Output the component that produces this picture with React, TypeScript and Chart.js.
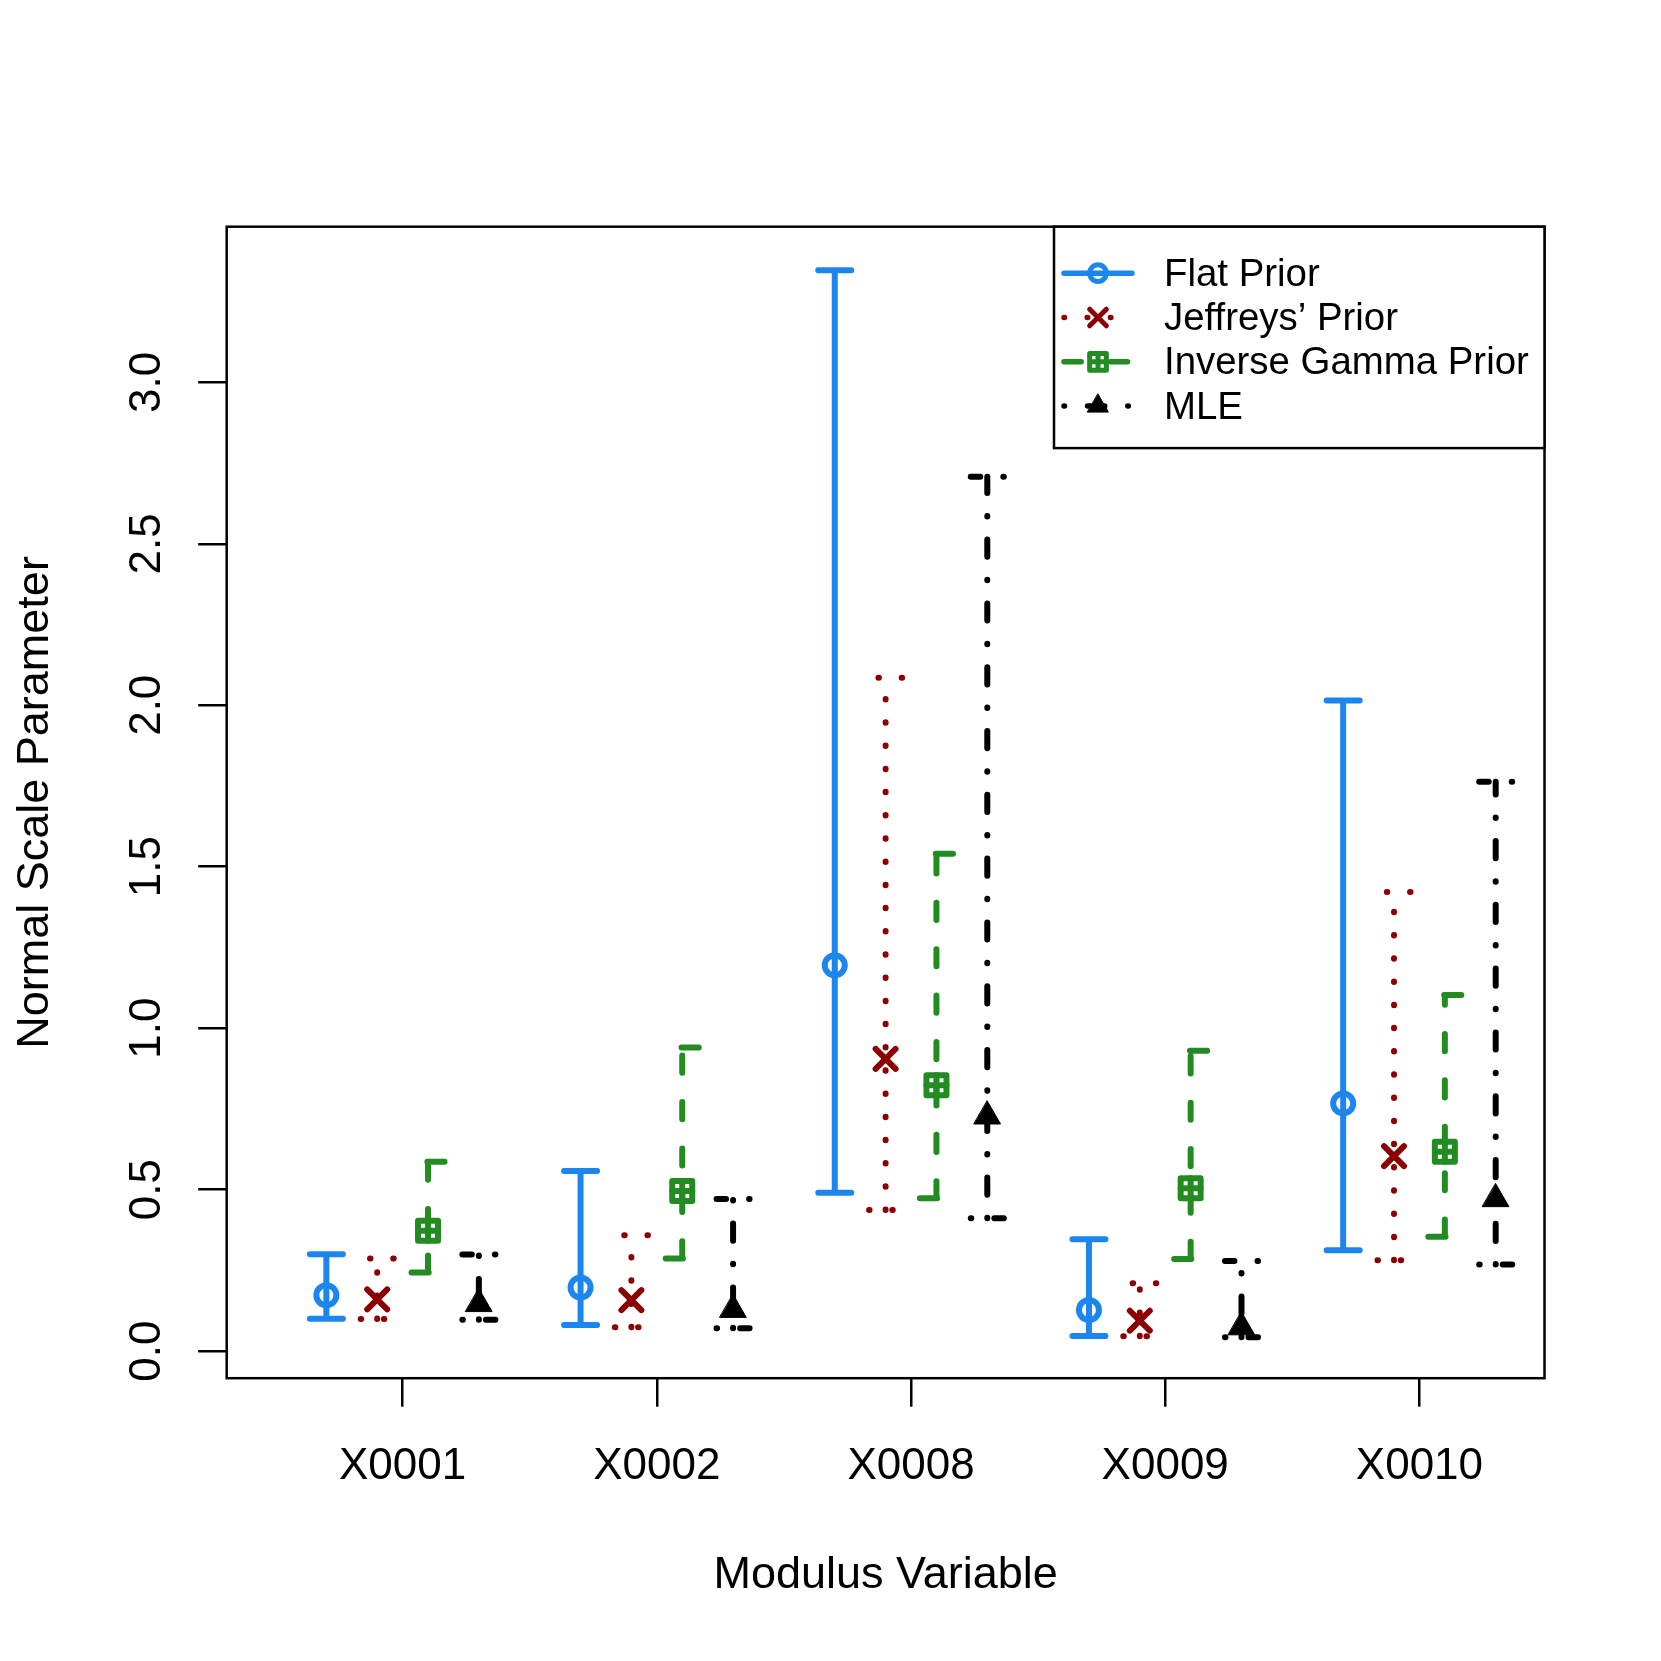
import React, { useEffect, useRef } from "react";
import { Chart, registerables } from "chart.js";

Chart.register(...registerables);

// ---------------- data ----------------
const categories = ["X0001", "X0002", "X0008", "X0009", "X0010"];
const seriesNames = ["Flat Prior", "Jeffreys\u2019 Prior", "Inverse Gamma Prior", "MLE"];

const flatEst = [0.173, 0.197, 1.195, 0.127, 0.767];
const flatLower = [0.1, 0.081, 0.49, 0.047, 0.312];
const flatUpper = [0.3, 0.558, 3.347, 0.346, 2.015];

const jeffEst = [0.16, 0.158, 0.905, 0.094, 0.604];
const jeffLower = [0.099, 0.074, 0.437, 0.046, 0.281];
const jeffUpper = [0.287, 0.359, 2.085, 0.21, 1.422];

const igEst = [0.373, 0.496, 0.823, 0.504, 0.617];
const igLower = [0.243, 0.287, 0.473, 0.285, 0.354];
const igUpper = [0.586, 0.94, 1.54, 0.93, 1.103];

const mleEst = [0.146, 0.128, 0.727, 0.074, 0.471];
const mleLower = [0.097, 0.071, 0.411, 0.043, 0.268];
const mleUpper = [0.299, 0.471, 2.708, 0.279, 1.763];

const xTickValues = [1, 2, 3, 4, 5];
const yTickValues = [0, 0.5, 1, 1.5, 2, 2.5, 3];
const xAxisTitle = "Modulus Variable";
const yAxisTitle = "Normal Scale Parameter";

// ---------------- layout / style ----------------
const SIZE = 1661;
const FONT = '"Liberation Sans", Arial, Helvetica, sans-serif';
const AREA = { left: 226.7, top: 226.7, right: 1544.5, bottom: 1378.2 };
const X_RANGE = [0.308, 5.492];
const Y_RANGE = [-0.084, 3.482];
const LINE_W = 6;
const CAP_HALF = 0.065; // cap half width in x units
const DASHES = {
  solid: [] as number[],
  dotted: [0.5, 22.7],
  dashed: [17.2, 29.2],
  dotdash: [0.5, 23.05, 17.2, 23.05],
};

const STYLES = [
  { color: "#1C86EE", dash: DASHES.solid, marker: "circle", offset: -0.3 },
  { color: "#8B0000", dash: DASHES.dotted, marker: "cross", offset: -0.1 },
  { color: "#228B22", dash: DASHES.dashed, marker: "squarePlus", offset: 0.1 },
  { color: "#000000", dash: DASHES.dotdash, marker: "triangle", offset: 0.3 },
];

const SERIES = [
  { name: seriesNames[0], est: flatEst, lo: flatLower, hi: flatUpper, ...STYLES[0] },
  { name: seriesNames[1], est: jeffEst, lo: jeffLower, hi: jeffUpper, ...STYLES[1] },
  { name: seriesNames[2], est: igEst, lo: igLower, hi: igUpper, ...STYLES[2] },
  { name: seriesNames[3], est: mleEst, lo: mleLower, hi: mleUpper, ...STYLES[3] },
];

function markerDatasets(s: any) {
  const pts = categories.map((_, i) => ({ x: i + 1 + s.offset, y: s.est[i] }));
  const base = {
    type: "line",
    data: pts,
    showLine: false,
    borderColor: s.color,
    pointBorderColor: s.color,
    pointHoverRadius: 0,
  };
  if (s.marker === "circle") {
    return [{ ...base, pointStyle: "circle", pointRadius: 10, pointBorderWidth: LINE_W, pointBackgroundColor: "rgba(0,0,0,0)" }];
  }
  if (s.marker === "cross") {
    return [{ ...base, pointStyle: "crossRot", pointRadius: 14.1, pointBorderWidth: LINE_W, pointBackgroundColor: "rgba(0,0,0,0)" }];
  }
  if (s.marker === "squarePlus") {
    return [
      { ...base, pointStyle: "rect", pointRadius: 14.14, pointBorderWidth: LINE_W, pointBackgroundColor: "rgba(0,0,0,0)" },
      { ...base, pointStyle: "cross", pointRadius: 10, pointBorderWidth: LINE_W, pointBackgroundColor: "rgba(0,0,0,0)" },
    ];
  }
  return [{ ...base, pointStyle: "triangle", pointRadius: 15.3, pointBorderWidth: 1, pointBackgroundColor: s.color }];
}

function barDataset(s: any) {
  const pts: any[] = [];
  categories.forEach((_, i) => {
    const x = i + 1 + s.offset;
    const lo = s.lo[i];
    const hi = s.hi[i];
    // lower cap: left -> centre -> right
    pts.push({ x: x - CAP_HALF, y: lo }, { x, y: lo }, { x: x + CAP_HALF, y: lo }, { x, y: null });
    // shaft: lower -> upper
    pts.push({ x, y: lo }, { x, y: hi }, { x, y: null });
    // upper cap: right -> centre -> left
    pts.push({ x: x + CAP_HALF, y: hi }, { x, y: hi }, { x: x - CAP_HALF, y: hi }, { x, y: null });
  });
  return {
    type: "line",
    data: pts,
    borderColor: s.color,
    borderWidth: LINE_W,
    borderDash: s.dash,
    borderCapStyle: "round",
    borderJoinStyle: "round",
    pointRadius: 0,
    pointHoverRadius: 0,
    spanGaps: false,
    fill: false,
    tension: 0,
  };
}

function drawLegendMarker(ctx: CanvasRenderingContext2D, kind: string, x: number, y: number, color: string) {
  ctx.save();
  ctx.setLineDash([]);
  ctx.strokeStyle = color;
  ctx.fillStyle = color;
  ctx.lineWidth = 5;
  ctx.lineCap = "round";
  ctx.lineJoin = "round";
  ctx.beginPath();
  if (kind === "circle") {
    ctx.arc(x, y, 8.35, 0, Math.PI * 2);
    ctx.stroke();
  } else if (kind === "cross") {
    const h = 8.35;
    ctx.moveTo(x - h, y - h);
    ctx.lineTo(x + h, y + h);
    ctx.moveTo(x + h, y - h);
    ctx.lineTo(x - h, y + h);
    ctx.stroke();
  } else if (kind === "squarePlus") {
    const h = 8.35;
    ctx.rect(x - h, y - h, 2 * h, 2 * h);
    ctx.moveTo(x - h, y);
    ctx.lineTo(x + h, y);
    ctx.moveTo(x, y - h);
    ctx.lineTo(x, y + h);
    ctx.stroke();
  } else {
    const r = 12;
    ctx.lineWidth = 1;
    ctx.moveTo(x, y - r);
    ctx.lineTo(x + r * 0.866, y + r / 2);
    ctx.lineTo(x - r * 0.866, y + r / 2);
    ctx.closePath();
    ctx.fill();
    ctx.stroke();
  }
  ctx.restore();
}

const framePlugin = {
  id: "frameAndLegend",
  beforeDatasetDraw(chart: any) {
    chart.ctx.lineCap = "round";
    chart.ctx.lineJoin = "round";
  },
  afterDatasetDraw(chart: any) {
    chart.ctx.lineCap = "butt";
    chart.ctx.lineJoin = "miter";
  },
  afterDraw(chart: any) {
    const { ctx, chartArea: a } = chart;
    ctx.save();
    ctx.setLineDash([]);
    ctx.lineWidth = 2.5;
    ctx.strokeStyle = "#000";
    ctx.lineCap = "butt";
    ctx.lineJoin = "miter";
    ctx.strokeRect(a.left, a.top, a.right - a.left, a.bottom - a.top);

    // legend box (top-right of plot area)
    const box = { left: a.right - 490.5, top: a.top, right: a.right, bottom: a.top + 221.4 };
    ctx.fillStyle = "#fff";
    ctx.fillRect(box.left, box.top, box.right - box.left, box.bottom - box.top);
    ctx.strokeRect(box.left, box.top, box.right - box.left, box.bottom - box.top);

    SERIES.forEach((s, i) => {
      const y = box.top + 46.5 + i * 44.3;
      ctx.save();
      ctx.strokeStyle = s.color;
      ctx.lineWidth = 5.5;
      ctx.lineCap = "round";
      ctx.setLineDash(s.dash);
      ctx.beginPath();
      ctx.moveTo(box.left + 10, y);
      ctx.lineTo(box.left + 78, y);
      ctx.stroke();
      ctx.restore();
      drawLegendMarker(ctx, s.marker, box.left + 44, y, s.color);
      ctx.fillStyle = "#000";
      ctx.font = `38.4px ${FONT}`;
      ctx.textAlign = "left";
      ctx.textBaseline = "middle";
      ctx.fillText(s.name, box.left + 110, y + 2);
    });
    ctx.restore();
  },
};

export default function App() {
  const ref = useRef<HTMLCanvasElement>(null);

  useEffect(() => {
    if (!ref.current) return;
    Chart.defaults.font.family = FONT;
    Chart.defaults.color = "#000";

    const layers: any[] = [];
    SERIES.forEach((s) => {
      layers.push(barDataset(s));
      markerDatasets(s).forEach((d) => layers.push(d));
    });
    // Chart.js draws the first dataset on top; reverse so later layers sit on top
    const datasets = layers.slice().reverse();

    const tickFont = { family: FONT, size: 44, lineHeight: 1 };
    const titleFont = { family: FONT, size: 45, lineHeight: 1 };
    const gridOpts = {
      drawOnChartArea: false,
      drawTicks: true,
      tickLength: 28.5,
      tickWidth: 2.5,
      lineWidth: 2.5,
      tickColor: "#000",
      color: "#000",
    };

    const chart = new Chart(ref.current, {
      type: "line",
      data: { datasets },
      options: {
        responsive: false,
        maintainAspectRatio: false,
        devicePixelRatio: 1,
        animation: false,
        events: [],
        layout: {
          padding: { left: 0, top: AREA.top, right: SIZE - AREA.right, bottom: 0 },
        },
        plugins: {
          legend: { display: false },
          tooltip: { enabled: false },
        },
        scales: {
          x: {
            type: "linear",
            min: X_RANGE[0],
            max: X_RANGE[1],
            afterBuildTicks: (sc: any) => {
              sc.ticks = xTickValues.map((v) => ({ value: v }));
            },
            afterFit: (sc: any) => {
              sc.height = SIZE - AREA.bottom;
            },
            ticks: {
              autoSkip: false,
              maxRotation: 0,
              minRotation: 0,
              padding: 37.8,
              color: "#000",
              font: tickFont,
              callback: (v: any) => categories[Math.round(Number(v)) - 1] ?? "",
            },
            grid: gridOpts,
            border: { display: false },
            title: {
              display: true,
              text: xAxisTitle,
              color: "#000",
              font: titleFont,
              padding: { top: 0, bottom: 62.5 },
            },
          },
          y: {
            type: "linear",
            min: Y_RANGE[0],
            max: Y_RANGE[1],
            afterBuildTicks: (sc: any) => {
              sc.ticks = yTickValues.map((v) => ({ value: v }));
            },
            afterFit: (sc: any) => {
              sc.width = AREA.left;
            },
            ticks: {
              autoSkip: false,
              minRotation: 90,
              maxRotation: 90,
              crossAlign: "center",
              padding: 19.6,
              color: "#000",
              font: tickFont,
              callback: (v: any) => Number(v).toFixed(1),
            },
            grid: gridOpts,
            border: { display: false },
            title: {
              display: true,
              text: yAxisTitle,
              color: "#000",
              font: titleFont,
              padding: { top: 13.2, bottom: 0 },
            },
          },
        },
      } as any,
      plugins: [framePlugin as any],
    } as any);

    return () => chart.destroy();
  }, []);

  return (
    <div style={{ position: "fixed", left: 0, top: 0, width: SIZE, height: SIZE, background: "#fff" }}>
      <canvas ref={ref} width={SIZE} height={SIZE} style={{ display: "block", width: SIZE, height: SIZE }} />
    </div>
  );
}
